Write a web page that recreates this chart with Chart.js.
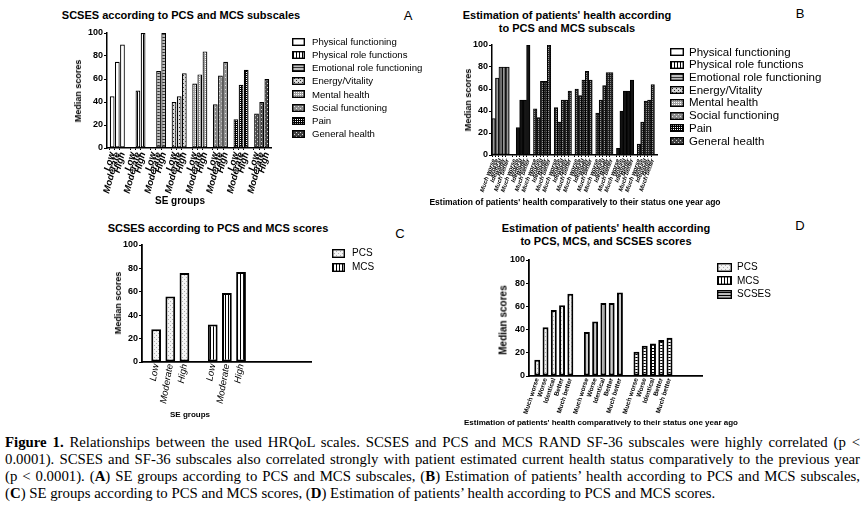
<!DOCTYPE html>
<html lang="en">
<head>
<meta charset="UTF-8">
<title>Figure 1</title>
<script src="https://cdn.jsdelivr.net/npm/chart.js"></script>
<style>
    body {
        margin: 0;
        width: 867px;
        height: 507px;
        position: relative;
        overflow: hidden;
        background: #fff;
        font-family: Arial, "Liberation Sans", sans-serif;
        color: #000;
    }
    canvas.panel, canvas.leg { position: absolute; }
    .txt { position: absolute; white-space: nowrap; z-index: 2; }
    .ttl { font-weight: bold; font-size: 11px; text-align: center; transform: translateX(-50%); line-height: 12.5px; }
    .letter { font-size: 13px; transform: translate(-50%, -50%); }
    .ytl { font-weight: bold; font-size: 9px; transform: translate(-50%, -50%) rotate(-90deg); }
    .xtl { font-weight: bold; transform: translate(-50%, -50%); }
    #caption {
        position: absolute;
        left: 5px;
        top: 434px;
        width: 855px;
        font-family: "Liberation Serif", "Times New Roman", serif;
        font-size: 14.8px;
        line-height: 17px;
    }
    #caption .ln { white-space: nowrap; }
    #caption .j { text-align: justify; text-align-last: justify; }
</style>
</head>
<body>

<div class="txt ttl" style="left:181px; top:9px;">SCSES according to PCS and MCS subscales</div>
<div class="txt letter" style="left:408px; top:15px;">A</div>
<div class="txt ytl" style="left:78px; top:91px;">Median scores</div>
<div class="txt xtl" style="left:180px; top:200px; font-size:10px;">SE groups</div>

<div class="txt ttl" style="left:567px; top:9px;">Estimation of patients' health according<br>to PCS and MCS subscals</div>
<div class="txt letter" style="left:800px; top:13px;">B</div>
<div class="txt ytl" style="left:468px; top:100px;">Median scores</div>
<div class="txt xtl" style="left:575px; top:202px; font-size:8.5px;">Estimation of patients' health comparatively to their status one year ago</div>

<div class="txt ttl" style="left:218px; top:222px;">SCSES according to PCS and MCS scores</div>
<div class="txt letter" style="left:400px; top:233px;">C</div>
<div class="txt ytl" style="left:118px; top:303px;">Median scores</div>
<div class="txt xtl" style="left:190px; top:414px; font-size:8px;">SE groups</div>

<div class="txt ttl" style="left:606px; top:222px;">Estimation of patients' health according<br>to PCS, MCS, and SCSES scores</div>
<div class="txt letter" style="left:800px; top:225px;">D</div>
<div class="txt ytl" style="left:503px; top:320px; font-size:10px;">Median scores</div>
<div class="txt xtl" style="left:601px; top:422px; font-size:8px;">Estimation of patients' health comparatively to their status one year ago</div>

<canvas class="panel" id="chartA" width="207" height="173" style="left:77px; top:25px;"></canvas>
<canvas class="panel" id="chartB" width="200" height="158" style="left:464px; top:37px;"></canvas>
<canvas class="panel" id="chartC" width="210" height="173" style="left:114px; top:237px;"></canvas>
<canvas class="panel" id="chartD" width="210" height="168" style="left:501px; top:252px;"></canvas>

<canvas class="leg" id="legA" width="145" height="110" style="left:290px; top:34px;"></canvas>
<canvas class="leg" id="legB" width="190" height="108" style="left:668px; top:44px;"></canvas>
<canvas class="leg" id="legC" width="70" height="30" style="left:330px; top:245px;"></canvas>
<canvas class="leg" id="legD" width="80" height="42" style="left:715px; top:259px;"></canvas>

<div id="caption">
    <div class="ln j"><b>Figure 1.</b> Relationships between the used HRQoL scales. SCSES and PCS and MCS RAND SF-36 subscales were highly correlated (p &lt;</div>
    <div class="ln j">0.0001). SCSES and SF-36 subscales also correlated strongly with patient estimated current health status comparatively to the previous year</div>
    <div class="ln j">(p &lt; 0.0001). (<b>A</b>) SE groups according to PCS and MCS subscales, (<b>B</b>) Estimation of patients’ health according to PCS and MCS subscales,</div>
    <div class="ln">(<b>C</b>) SE groups according to PCS and MCS scores, (<b>D</b>) Estimation of patients’ health according to PCS and MCS scores.</div>
</div>

<script>
    // categories
    const subscales = ['Physical functioning', 'Physical role functions', 'Emotional role functioning', 'Energy/Vitality',
        'Mental health', 'Social functioning', 'Pain', 'General health'];
    const seGroups = ['Low', 'Moderate', 'High'];
    const healthChange = ['Much worse', 'Worse', 'Identical', 'Better', 'Much better'];
    const summaryScores = ['PCS', 'MCS', 'SCSES'];
    const yTicks = [0, 20, 40, 60, 80, 100];

    // A - subscales by SE group (median)
    const seLow = [45, 0, 0, 40, 56, 38, 25, 30];
    const seModerate = [75, 50, 67, 45, 64, 63, 55, 40];
    const seHigh = [90, 100, 100, 65, 84, 75, 68, 60];

    // B - subscales by health change vs one year ago
    const muchWorse = [33, 0, 42, 43, 60, 38, 6, 10];
    const worse = [70, 25, 34, 30, 54, 50, 40, 30];
    const identical = [80, 50, 67, 50, 68, 63, 58, 49];
    const better = [80, 50, 67, 50, 76, 75, 58, 50];
    const muchBetter = [80, 100, 100, 58, 68, 75, 68, 64];

    // C - PCS / MCS by SE group
    const pcsBySe = [28, 56, 76];
    const mcsBySe = [32, 59, 77];

    // D - PCS / MCS / SCSES by health change
    const pcsByHealth = [14, 42, 57, 61, 71];
    const mcsByHealth = [38, 47, 63, 63, 72];
    const scsesByHealth = [21, 26, 28, 31, 33];

    const FONT = 'Arial, "Liberation Sans", sans-serif';
    Chart.defaults.font.family = FONT;
    Chart.defaults.color = '#000';

    // small repeating fills, like the GraphPad hatchings
    function pat(bg, fg, kind, size) {
        const c = document.createElement('canvas');
        c.width = c.height = size || 3;
        const g = c.getContext('2d');
        g.fillStyle = bg;
        g.fillRect(0, 0, c.width, c.height);
        g.fillStyle = fg;
        if (kind === 'v') g.fillRect(0, 0, 1, c.height);
        if (kind === 'h') g.fillRect(0, 0, c.width, 1);
        if (kind === 'dot') g.fillRect(0, 0, 1, 1);
        if (kind === 'check') { g.fillRect(0, 0, 1, 1); g.fillRect(2, 2, 1, 1); }
        if (kind === 'grid') { g.fillRect(0, 0, 1, c.height); g.fillRect(0, 0, c.width, 1); }
        return g.createPattern(c, 'repeat');
    }

    const P = {
        white: '#ffffff',
        vstripe: pat('#ffffff', '#000', 'v', 3),
        hstripe: pat('#ffffff', '#000', 'h', 3),
        hstripeGray: pat('#bdbdbd', '#333', 'h', 3),
        crossDots: pat('#d8d8d8', '#222', 'check', 4),
        grayDots: pat('#a0a0a0', '#fff', 'dot', 2),
        grayDots2: pat('#8c8c8c', '#e0e0e0', 'check', 4),
        darkGrid: pat('#ffffff', '#000', 'grid', 2),
        darkCheck: pat('#444', '#ddd', 'check', 4),
        grayLines: pat('#9a9a9a', '#6a6a6a', 'v', 2),
        black: '#141414',
        darkDots: pat('#262626', '#9a9a9a', 'dot', 2),
        lightDots: pat('#f4f4f4', '#b0b0b0', 'check', 4),
        grayV: pat('#c9c9c9', '#a8a8a8', 'v', 3),
        grayH: pat('#bdbdbd', '#000', 'h', 3)
    };

    const fillsA = [P.white, P.vstripe, P.hstripeGray, P.crossDots, P.grayDots, P.grayDots2, P.darkGrid, P.darkCheck];
    const fillsB = [P.grayLines, P.black, P.darkDots, P.darkDots, P.darkDots, P.darkDots, P.black, P.darkDots];
    const fillsC = [P.lightDots, P.vstripe];
    const fillsD = [P.lightDots, P.grayV, P.hstripe];
    const legendFillsD = [P.lightDots, P.vstripe, P.grayH];

    // one flat category axis: bars of a group side by side, blank slot between groups
    function flatten(groups, groupLabels, lead, trail) {
        const labels = [], values = [], group = [];
        const blank = () => { labels.push(''); values.push(null); group.push(-1); };
        for (let i = 0; i < lead; i++) blank();
        groups.forEach((vals, gi) => {
            if (gi > 0) blank();
            vals.forEach((v, k) => { labels.push(groupLabels[k]); values.push(v); group.push(gi); });
        });
        for (let i = 0; i < trail; i++) blank();
        return { labels, values, group };
    }

    function panel(id, flat, fills, o) {
        new Chart(document.getElementById(id), {
            type: 'bar',
            data: {
                labels: flat.labels,
                datasets: [{
                    data: flat.values,
                    backgroundColor: flat.group.map(g => g < 0 ? 'rgba(0,0,0,0)' : fills[g]),
                    borderColor: '#000',
                    borderWidth: o.bw,
                    borderSkipped: false,
                    categoryPercentage: 1,
                    barPercentage: o.bp
                }]
            },
            options: {
                responsive: false,
                animation: false,
                layout: { padding: { top: 8, right: 4, left: 0, bottom: 0 } },
                plugins: { legend: { display: false }, tooltip: { enabled: false } },
                scales: {
                    x: {
                        offset: o.offset,
                        grid: {
                            drawOnChartArea: false,
                            drawTicks: o.xTicks,
                            tickLength: 2,
                            color: c => flat.labels[c.index] ? '#000' : 'rgba(0,0,0,0)'
                        },
                        border: { color: '#000', width: o.axisW },
                        ticks: { autoSkip: false, minRotation: o.rot, maxRotation: o.rot, font: o.xFont, color: '#000', padding: 1 },
                        afterFit: s => { s.height = o.xH; }
                    },
                    y: {
                        min: 0,
                        max: 100,
                        afterBuildTicks: s => { s.ticks = yTicks.map(v => ({ value: v })); },
                        grid: { drawOnChartArea: false, color: '#000', tickLength: 3, lineWidth: 1 },
                        border: { color: '#000', width: o.axisW },
                        ticks: { font: { size: 9, weight: 'bold' }, color: '#000', padding: 1 },
                        afterFit: s => { s.width = o.yW; }
                    }
                }
            }
        });
    }

    // legend drawn on its own small canvas: swatch with the same fill + name
    function legend(id, names, fills, o) {
        const g = document.getElementById(id).getContext('2d');
        g.font = o.fs + 'px ' + FONT;
        g.textBaseline = 'middle';
        names.forEach((name, i) => {
            const cy = 8 + i * o.step;
            const x0 = 2, y0 = Math.round(cy - o.h / 2);
            g.fillStyle = fills[i];
            g.fillRect(x0, y0, o.w, o.h);
            g.strokeStyle = '#000';
            g.lineWidth = 1.4;
            g.strokeRect(x0 + 0.7, y0 + 0.7, o.w - 1.4, o.h - 1.4);
            g.fillStyle = '#000';
            g.fillText(name, x0 + o.tx, cy + 0.5);
        });
    }

    const flatA = flatten(subscales.map((_, i) => [seLow[i], seModerate[i], seHigh[i]]), seGroups, 1, 1);
    const flatB = flatten(subscales.map((_, i) => [muchWorse[i], worse[i], identical[i], better[i], muchBetter[i]]), healthChange, 0, 1);
    const flatC = flatten([pcsBySe, mcsBySe], seGroups, 1, 5);
    const flatD = flatten([pcsByHealth, mcsByHealth, scsesByHealth], healthChange, 1, 4);

    panel('chartA', flatA, fillsA, { offset: false, bw: 1.2, bp: 0.92, rot: 75, xH: 50, yW: 30, axisW: 1.5, xTicks: true,
        xFont: { size: 9.5, weight: 'bold', style: 'italic' } });
    panel('chartB', flatB, fillsB, { offset: true, bw: 1, bp: 1, rot: 70, xH: 40, yW: 28, axisW: 1.5, xTicks: true,
        xFont: { size: 6, weight: 'bold', style: 'italic' } });
    panel('chartC', flatC, fillsC, { offset: false, bw: 2, bp: 0.69, rot: 80, xH: 48, yW: 28, axisW: 1.8, xTicks: false,
        xFont: { size: 9.5, style: 'italic' } });
    panel('chartD', flatD, fillsD, { offset: false, bw: 2, bp: 0.72, rot: 72, xH: 44, yW: 28, axisW: 1.8, xTicks: false,
        xFont: { size: 6.5, weight: 'bold' } });

    legend('legA', subscales, fillsA, { step: 13.1, w: 13, h: 8, tx: 20, fs: 9.6 });
    legend('legB', subscales, fillsA, { step: 12.7, w: 14, h: 8, tx: 19, fs: 11.5 });
    legend('legC', ['PCS', 'MCS'], fillsC, { step: 14, w: 13, h: 9, tx: 20, fs: 10 });
    legend('legD', summaryScores, legendFillsD, { step: 13.5, w: 15, h: 9, tx: 20, fs: 10 });
</script>
</body>
</html>
